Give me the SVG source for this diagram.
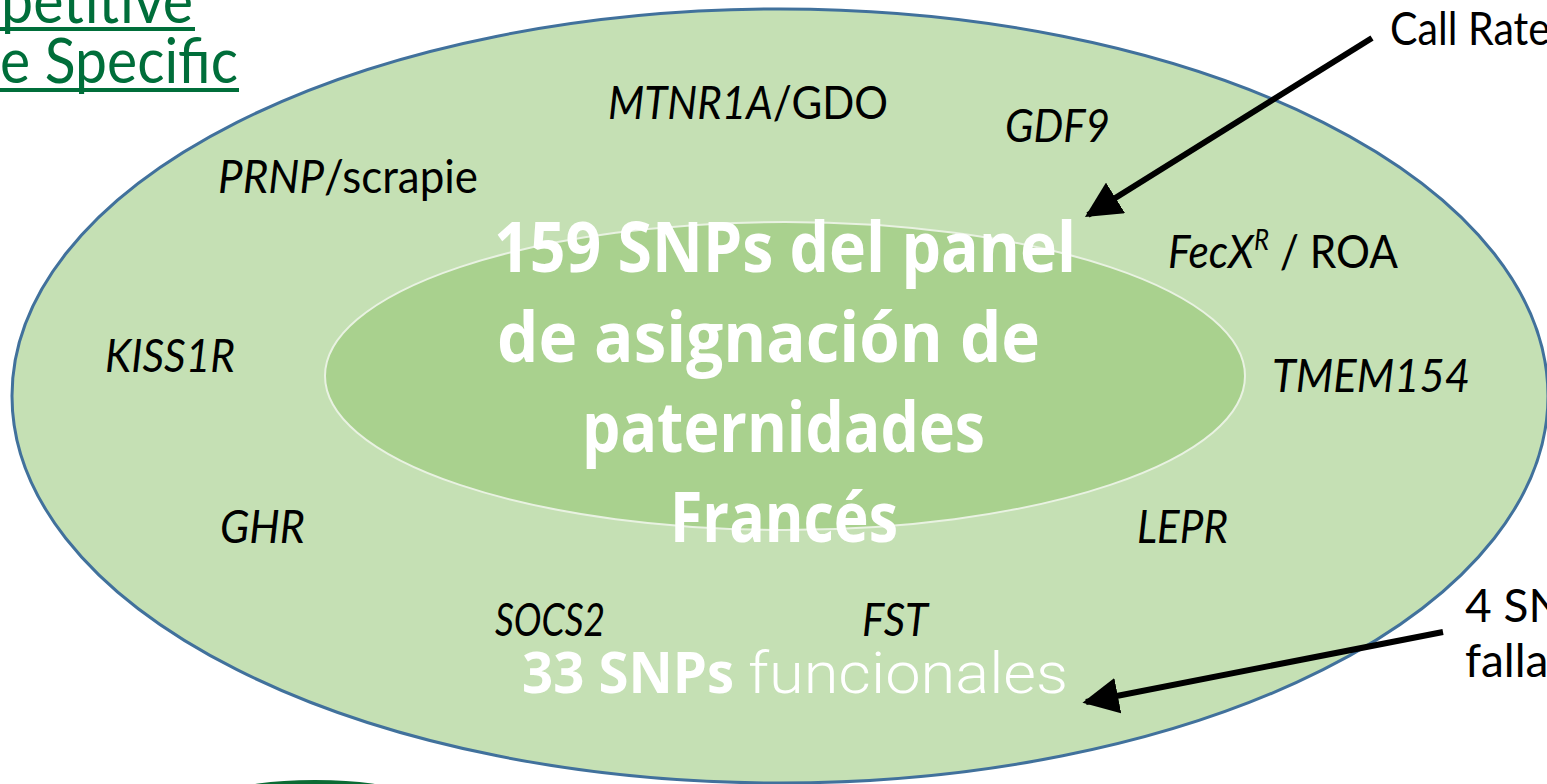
<svg xmlns="http://www.w3.org/2000/svg" width="1547" height="784" viewBox="0 0 1547 784">
<defs>
<style>
.lbl{font-family:Lato,"Open Sans",sans-serif;font-size:46px;fill:#000}
.it{font-style:italic}
.ttl{font-family:Lato,"Open Sans",sans-serif;font-size:62px;fill:#006e3a}
.big{font-family:"Open Sans",Lato,sans-serif;font-weight:bold;font-size:70px;fill:#fff}
.conn{stroke:#000;stroke-width:6;fill:none}
</style>
<marker id="ah" viewBox="0 0 10 10" refX="9" refY="5" markerWidth="6" markerHeight="6" orient="auto" markerUnits="strokeWidth">
<path d="M0,0 L10,5 L0,10 Z" fill="#000"/>
</marker>
</defs>
<rect width="1547" height="784" fill="#fff"/>
<g id="title">
<text class="ttl" x="1" y="23" textLength="192" lengthAdjust="spacingAndGlyphs">petitive</text>
<rect x="0" y="27" width="195" height="4" fill="#006e3a"/>
<text class="ttl" x="0" y="83" textLength="238" lengthAdjust="spacingAndGlyphs">e Specific</text>
<rect x="0" y="88" width="239" height="4" fill="#006e3a"/>
</g>
<g id="bottom-shape">
<ellipse cx="315" cy="794" rx="80" ry="12" fill="#fff" stroke="#0b6b34" stroke-width="4"/>
</g>
<g id="outer">
<ellipse cx="780" cy="396" rx="768" ry="387" fill="#c5e0b4" stroke="#41719c" stroke-width="3"/>
</g>
<g id="inner">
<ellipse cx="785" cy="376" rx="460" ry="154" fill="#a9d18e" stroke="#e9f2e2" stroke-width="2"/>
</g>
<g id="labels">
<text class="lbl" x="608" y="119" textLength="280" lengthAdjust="spacingAndGlyphs"><tspan class="it">MTNR1A</tspan>/GDO</text>
<text class="lbl it" x="1005" y="142" textLength="105" lengthAdjust="spacingAndGlyphs">GDF9</text>
<text class="lbl" x="218" y="193" textLength="260" lengthAdjust="spacingAndGlyphs"><tspan class="it">PRNP</tspan>/scrapie</text>
<text class="lbl" x="1168" y="268" textLength="230" lengthAdjust="spacingAndGlyphs"><tspan class="it">FecX</tspan><tspan class="it" font-size="28" dy="-18">R</tspan><tspan dy="18"> / ROA</tspan></text>
<text class="lbl it" x="105" y="372" textLength="130" lengthAdjust="spacingAndGlyphs">KISS1R</text>
<text class="lbl it" x="1272" y="392" textLength="198" lengthAdjust="spacingAndGlyphs">TMEM154</text>
<text class="lbl it" x="220" y="543" textLength="85" lengthAdjust="spacingAndGlyphs">GHR</text>
<text class="lbl it" x="1137" y="543" textLength="91" lengthAdjust="spacingAndGlyphs">LEPR</text>
<text class="lbl it" x="495" y="636" textLength="110" lengthAdjust="spacingAndGlyphs">SOCS2</text>
<text class="lbl it" x="862" y="636" textLength="66" lengthAdjust="spacingAndGlyphs">FST</text>
<text class="lbl" x="1390" y="45" font-size="44" textLength="160" lengthAdjust="spacingAndGlyphs">Call Rate</text>
<text class="lbl" x="1465" y="622" font-size="42">4 SN</text>
<text class="lbl" x="1465" y="677" font-size="42">falla</text>
</g>
<g id="center-text">
<text class="big" x="494" y="272" textLength="582" lengthAdjust="spacingAndGlyphs">159 SNPs del panel</text>
<text class="big" x="497" y="362" textLength="543" lengthAdjust="spacingAndGlyphs">de asignación de</text>
<text class="big" x="582" y="452" textLength="403" lengthAdjust="spacingAndGlyphs">paternidades</text>
<text class="big" x="670" y="542" textLength="228" lengthAdjust="spacingAndGlyphs">Francés</text>
</g>
<g id="functional">
<text x="522" y="693" fill="#fff" font-size="58" font-family="'Open Sans',Lato,sans-serif" font-weight="bold" textLength="212" lengthAdjust="spacingAndGlyphs">33 SNPs</text>
<text x="748" y="693" fill="#fff" font-size="58" font-family="Roboto,'Liberation Sans',sans-serif" font-weight="300" textLength="320" lengthAdjust="spacingAndGlyphs">funcionales</text>
</g>
<g id="connectors">
<line class="conn" x1="1372" y1="38" x2="1088" y2="215" marker-end="url(#ah)"/>
<line class="conn" x1="1443" y1="632" x2="1086" y2="702" marker-end="url(#ah)"/>
</g>
</svg>
